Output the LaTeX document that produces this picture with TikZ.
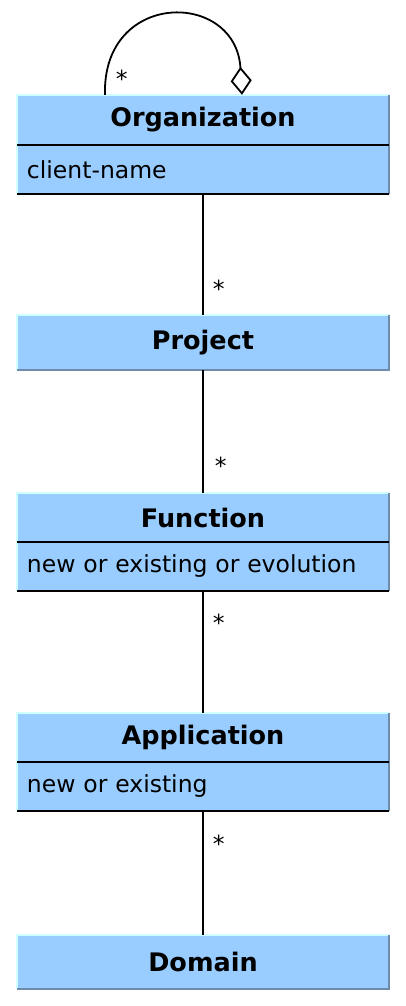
\documentclass[tikz,border=0pt]{standalone}
\usepackage{fontspec}
\setmainfont{DejaVu Sans}
\usepackage{xcolor}
\usetikzlibrary{positioning,arrows.meta}

\definecolor{classfill}{HTML}{99CCFF}
\definecolor{lightedge}{HTML}{D0FFFF}
\definecolor{darkedge}{HTML}{6E8CAA}

\newcommand{\umlfont}{\fontsize{23.5}{28}\selectfont}
\newcommand{\umltitlefont}{\fontsize{25.5}{30}\selectfont\bfseries}

\tikzset{
  classtitle/.style={fill=classfill, minimum width=372pt, minimum height=#1,
    inner sep=0pt, font=\umltitlefont},
  classtitle/.default=50pt,
  classattr/.style={fill=classfill, minimum width=372pt, minimum height=48pt,
    text width=352pt, inner xsep=10pt, inner ysep=0pt, align=left, font=\umlfont},
  assoc/.style={line width=1.8pt},
  sepline/.style={line width=2pt, black},
  mult/.style={inner sep=0pt, anchor=base west, font=\umlfont},
}

\begin{document}
\begin{tikzpicture}[x=1pt, y=-1pt]
  \useasboundingbox (0,0) rectangle (406,1006);

  % classes
  \node[classtitle] (org) at (203,120) {Organization};
  \node[classattr, below=0pt of org] (orgattr) {client-name};
  \node[classtitle=55pt] (proj) at (203,342.5) {Project};
  \node[classtitle=49pt] (func) at (203,517.5) {Function};
  \node[classattr, below=0pt of func] (funcattr) {new or existing or evolution};
  \node[classtitle=49pt] (app) at (203,737.5) {Application};
  \node[classattr, below=0pt of app] (appattr) {new or existing};
  \node[classtitle=54pt] (dom) at (203,962) {Domain};

  % outer borders
  \foreach \top/\bot in {org/orgattr, proj/proj, func/funcattr, app/appattr, dom/dom} {
    \draw[lightedge, line width=1.5pt] (\bot.south west) -- (\top.north west) -- (\top.north east);
    \draw[darkedge, line width=1.5pt] (\top.north east) -- (\bot.south east) -- (\bot.south west);
  }

  % compartment lines
  \foreach \n in {orgattr, funcattr, appattr} {
    \draw[sepline] (\n.north west) -- (\n.north east);
    \draw[sepline] (\n.south west) -- (\n.south east);
  }

  % associations
  \draw[assoc] (orgattr.south) -- (proj.north)
    node[mult, at end, xshift=9pt, yshift=17pt] {*};
  \draw[assoc] (proj.south) -- (func.north)
    node[mult, at end, xshift=11pt, yshift=18pt] {*};
  \draw[assoc] (funcattr.south) -- (app.north)
    node[mult, at start, xshift=9pt, yshift=-41pt] {*};
  \draw[assoc] (appattr.south) -- (dom.north)
    node[mult, at start, xshift=9pt, yshift=-42pt] {*};

  % self aggregation
  \draw[assoc, -{Diamond[open, length=28pt, width=21pt]}]
    ([xshift=-98pt]org.north) .. controls ([xshift=-101pt, yshift=105pt]org.north)
      and ([xshift=33pt, yshift=105pt]org.north) .. ([xshift=39pt]org.north)
    node[mult, at start, xshift=10pt, yshift=7pt] {*};
\end{tikzpicture}
\end{document}
